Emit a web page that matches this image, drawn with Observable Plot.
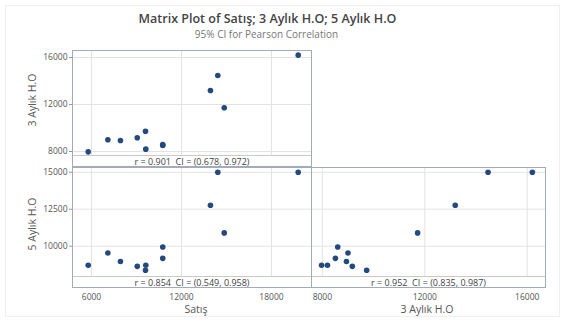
<!DOCTYPE html>
<html>
<head>
<meta charset="utf-8">
<script src="https://cdn.jsdelivr.net/npm/d3@7"></script>
<script src="https://cdn.jsdelivr.net/npm/@observablehq/plot@0.6"></script>
<style>
  html, body { margin: 0; padding: 0; background: #fff; }
  #chart { position: relative; width: 565px; height: 322px; overflow: hidden; font-family: "Open Sans", sans-serif; background: #fff; }
  .abs { position: absolute; }
  .title { left: 0; width: 535px; top: 10px; text-align: center; font-size: 12.5px; font-weight: 600; color: #444; }
  .subtitle { left: 0; width: 533px; top: 27px; text-align: center; font-size: 10px; color: #777; }
  .axtitle { font-size: 10.5px; color: #555; white-space: nowrap; }
  .panel { border: 1px solid #a3abb8; box-sizing: border-box; pointer-events: none; }
  .outer { left: 5px; top: 5px; width: 555px; height: 312px; border: 1px solid #f0f0f0; box-sizing: border-box; }
</style>
</head>
<body>
<div id="chart">
  <div class="abs outer"></div>
  <div class="abs title">Matrix Plot of Satış; 3 Aylık H.O; 5 Aylık H.O</div>
  <div class="abs subtitle">95% CI for Pearson Correlation</div>
</div>
<script>
// ---- data ----
const satis  = [5780, 7090, 7930, 9050, 9600, 9620, 10750, 10750, 13930, 14420, 14850, 19780];
const aylik3 = [7970, 9000, 8940, 9170, 9730, 8200, 8510, 8600, 13190, 14470, 11720, 16200];
const aylik5 = [8710, 9540, 8970, 8640, 8380, 8710, 9180, 9950, 12770, 15000, 10900, 15000];
const varNames = ["Satış", "3 Aylık H.O", "5 Aylık H.O"];
const corrLabels = ["r = 0.901  CI = (0.678, 0.972)", "r = 0.854  CI = (0.549, 0.958)", "r = 0.952  CI = (0.835, 0.987)"];
const satisTicks = [6000, 12000, 18000];
const aylik3Ticks = [8000, 12000, 16000];
const aylik5Ticks = [10000, 12500, 15000];

const rows = satis.map((s, i) => ({satis: s, a3: aylik3[i], a5: aylik5[i]}));

const chart = document.getElementById("chart");
const FONT = "Open Sans, sans-serif";
const BAND = 11;     // r/CI strip height under each panel's data area
const ML = 50, MB = 34;
const fmt = d3.format("d");

function panel({left, right, top, bottom, xKey, yKey, xDomain, yDomain, xTicks, yTicks, showY, showX, label}) {
  const w = right - left, h = bottom - top;
  const marks = [
    Plot.gridX(xTicks, {stroke: "#e3e3e3", strokeOpacity: 1}),
    Plot.gridY(yTicks, {stroke: "#e3e3e3", strokeOpacity: 1}),
    Plot.frame({anchor: "bottom", stroke: "#c9c9c9"}),
    Plot.dot(rows, {x: xKey, y: yKey, r: 2.8, fill: "#23497f", stroke: "none"}),
    Plot.text([label], {text: d => d, frameAnchor: "bottom", dy: 6.5, fontSize: 9, fill: "#444", lineAnchor: "middle"})
  ];
  if (showY) marks.push(Plot.axisY(yTicks, {tickSize: 3, tickPadding: 2, fontSize: 8.5, color: "#555", stroke: "#999", label: null, tickFormat: fmt}));
  if (showX) marks.push(Plot.text(xTicks, {x: d => d, frameAnchor: "bottom", dy: BAND + 10, fontSize: 8.5, fill: "#555", lineAnchor: "middle", text: d => fmt(d)}));
  const svg = Plot.plot({
    width: w + ML, height: h + MB,
    marginLeft: ML, marginRight: 0, marginTop: 0, marginBottom: MB,
    style: {fontFamily: FONT, background: "transparent", overflow: "visible"},
    x: {domain: xDomain, axis: null},
    y: {domain: yDomain, axis: null},
    marks
  });
  svg.style.position = "absolute";
  svg.style.left = (left - ML) + "px";
  svg.style.top = top + "px";
  chart.appendChild(svg);
  const box = document.createElement("div");
  box.className = "abs panel";
  box.style.left = left + "px";
  box.style.top = top + "px";
  box.style.width = (w + 1) + "px";
  box.style.height = (h + BAND + 1) + "px";
  chart.appendChild(box);
}

// top-left: Satış vs 3 Aylık H.O
panel({left: 72, right: 311, top: 50, bottom: 155, xKey: "satis", yKey: "a3",
  xDomain: [4733, 20667], yDomain: [7660, 16596], xTicks: satisTicks, yTicks: aylik3Ticks,
  showY: true, showX: false, label: corrLabels[0]});
// bottom-left: Satış vs 5 Aylık H.O
panel({left: 72, right: 311, top: 167, bottom: 276, xKey: "satis", yKey: "a5",
  xDomain: [4733, 20667], yDomain: [7954, 15320], xTicks: satisTicks, yTicks: aylik5Ticks,
  showY: true, showX: true, label: corrLabels[1]});
// bottom-right: 3 Aylık H.O vs 5 Aylık H.O
panel({left: 311, right: 545, top: 167, bottom: 276, xKey: "a3", yKey: "a5",
  xDomain: [7576, 16714], yDomain: [7954, 15320], xTicks: aylik3Ticks, yTicks: aylik5Ticks,
  showY: false, showX: true, label: corrLabels[2]});

// axis titles
function axTitle(text, cx, cy, rotate) {
  const d = document.createElement("div");
  d.className = "abs axtitle";
  d.textContent = text;
  chart.appendChild(d);
  const r = d.getBoundingClientRect();
  d.style.left = (cx - r.width / 2) + "px";
  d.style.top = (cy - r.height / 2) + "px";
  if (rotate) d.style.transform = "rotate(-90deg)";
}
axTitle(varNames[0], 196, 309, false);
axTitle(varNames[1], 427, 309, false);
axTitle(varNames[1], 32, 100, true);
axTitle(varNames[2], 32, 224, true);
</script>
</body>
</html>
